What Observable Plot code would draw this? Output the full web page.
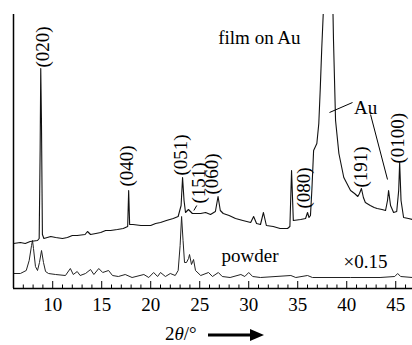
<!DOCTYPE html>
<html><head><meta charset="utf-8">
<script src="https://cdn.jsdelivr.net/npm/d3@7"></script>
<script src="https://cdn.jsdelivr.net/npm/@observablehq/plot@0.6"></script>
<style>
body{margin:0;background:#fff;}
#chart{width:412px;height:345px;font-family:"Liberation Serif",serif;}
#chart svg text{font-family:"Liberation Serif",serif !important;}
#cap{position:relative;height:27px;width:412px;}
#cap span{position:absolute;left:165px;top:6px;font-size:19px;line-height:19px;color:#000;font-family:"Liberation Serif",serif !important;}
#cap svg{position:absolute;left:208px;top:10px;}
</style></head><body><div id="chart"></div><script>
// 2θ (degrees) and intensity (arb. units) of the film on Au
const filmAngle = [6.0,6.7,7.2,7.7,8.45,8.62,8.72,8.78,8.85,8.95,9.1,9.8,10.3,11.0,11.5,12.0,12.5,13.3,13.55,13.86,14.4,14.9,15.4,15.9,16.6,17.2,17.65,17.75,17.85,18.2,19.0,20.0,20.5,21.0,21.6,22.3,22.8,23.1,23.25,23.4,23.55,23.85,24.25,25.1,25.6,26.1,26.6,26.87,27.1,27.4,28.0,28.65,29.4,30.2,30.5,30.8,31.2,31.5,31.8,32.5,33.2,33.96,34.2,34.37,34.55,35.3,35.8,36.0,36.15,36.3,36.45,36.62,36.95,37.15,37.3,37.45,37.6,37.8,38.15,38.35,38.6,38.65,38.86,39.2,39.7,40.39,40.8,41.13,41.3,41.5,41.7,41.9,42.4,42.8,43.1,43.6,43.96,44.16,44.27,44.47,44.78,45.1,45.3,45.4,45.54,45.8,46.3,46.71];
const filmIntensity = [45,46,45,47,48,50,140,220,170,54,50,52,51,50,51,53,53,54,57,54,55,56,58,58,59,60,62,98,64,64,63,63,65,66,68,70,72,83,111,88,76,79,75,75,76,74,77,92,78,75,73,70,68,66,72,65,64,76,63,62,60,60,62,118,68,69,70,76,71,73,100,138,145,165,200,240,274,400,600,400,274,248,168,135,111,98,95,92,95,100,91,86,83,81,80,79,78,88,98,83,76,77,98,126,88,71,70,69];
// powder pattern (×0.15)
const powderAngle = [6.0,6.7,7.3,7.6,7.84,7.94,8.04,8.24,8.45,8.65,8.86,9.06,9.27,9.57,10.3,11.3,11.8,12.1,12.5,12.8,13.35,13.86,14.2,14.7,15.1,15.7,16.1,16.7,17.4,18.1,19.3,19.8,20.3,20.7,21.0,21.5,22.0,22.5,22.8,23.0,23.15,23.3,23.45,23.65,23.86,23.96,24.16,24.37,24.57,25.1,25.9,26.3,26.9,27.3,28.1,29.2,29.6,30.0,30.4,31.2,34.3,34.8,36.0,36.5,40.4,43.4,44.9,45.2,45.5,46.71];
const powderIntensity = [15,15,18,28,43,48,40,22,18,26,38,26,17,15,14,13,20,14,17,13,15,19,14,20,16,18,13,12,14,11,14,11,16,12,16,12,15,13,18,43,72,48,26,26,30,34,24,29,18,13,16,12,16,12,11,14,12,16,12,11,13,11,13,11,11,11,12,15,12,11];
// reflection labels (Miller indices) and where they sit
const peakLabels = ["(020)","(040)","(051)","(151)","(060)","(080)","(191)","(0100)"];
const peakLabelAngle = [9.05,17.53,23.04,24.93,26.26,35.64,41.4,45.23];
const peakLabelIntensity = [221,102,113,85,94,80,101,125];
// plain text notes
const notes = ["film on Au","Au","powder","×0.15"];
const noteAngle = [31.09,41.92,30.13,41.92];
const noteIntensity = [251,181,33,27];
// leader lines: from label to peak
const leaderFromAngle = [40.59,42.43,24.7];
const leaderFromIntensity = [186,174,83];
const leaderToAngle = [38.24,44.16,24.4];
const leaderToIntensity = [176,109,78];
const majorTicks = [10,15,20,25,30,35,40,45];
const minorTicks = d3.range(7,47).filter(d => d % 5 !== 0);

const film = filmAngle.map((x,i)=>({x, y: filmIntensity[i]}));
const powder = powderAngle.map((x,i)=>({x, y: powderIntensity[i]}));
const labels = peakLabels.map((t,i)=>({t, x: peakLabelAngle[i], y: peakLabelIntensity[i]}));
const noteData = notes.map((t,i)=>({t, x: noteAngle[i], y: noteIntensity[i]}));
const leaders = leaderFromAngle.map((x1,i)=>({x1, y1: leaderFromIntensity[i], x2: leaderToAngle[i], y2: leaderToIntensity[i]}));

const font = "Liberation Serif";
const plot = Plot.plot({
  width: 412, height: 318,
  marginLeft: 13, marginRight: 0, marginTop: 14, marginBottom: 30,
  x: {domain: [6, 46.71]},
  y: {domain: [0, 274], axis: null},
  style: {fontFamily: "'Liberation Serif', serif", background: "#fff", color: "#000"},
  marks: [
    Plot.line(powder, {x: "x", y: "y", stroke: "#222", strokeWidth: 1, clip: true}),
    Plot.line(film, {x: "x", y: "y", stroke: "#111", strokeWidth: 1.1, clip: true}),
    Plot.link(leaders, {x1: "x1", y1: "y1", x2: "x2", y2: "y2", stroke: "#000", strokeWidth: 1}),
    Plot.text(labels, {x: "x", y: "y", text: "t", rotate: -90, textAnchor: "start", lineAnchor: "middle", fontSize: 19, fontFamily: font, fill: "#000"}),
    Plot.text(noteData, {x: "x", y: "y", text: "t", textAnchor: "middle", lineAnchor: "middle", fontSize: 19, fontFamily: font, fill: "#000"}),
    Plot.ruleX(minorTicks, {x: d => d, y1: 0, y2: 3.5, stroke: "#000", strokeWidth: 1}),
    Plot.ruleX(majorTicks, {x: d => d, y1: 0, y2: 7, stroke: "#000", strokeWidth: 1}),
    Plot.ruleX([6], {stroke: "#000", strokeWidth: 1.5}),
    Plot.ruleY([0], {stroke: "#000", strokeWidth: 1.5}),
    Plot.axisX({ticks: majorTicks, tickSize: 0, tickPadding: 9, fontSize: 19, fontFamily: font, fill: "#000", label: null})
  ]
});
const chart = document.getElementById("chart");
chart.appendChild(plot);
const cap = document.createElement("div");
cap.id = "cap";
cap.innerHTML = '<span>2<i>θ</i>/°</span><svg width="60" height="14"><line x1="0" y1="7" x2="44" y2="7" stroke="#000" stroke-width="3"/><polygon points="42,1 56,7 42,13" fill="#000"/></svg>';
chart.appendChild(cap);
</script></body></html>
